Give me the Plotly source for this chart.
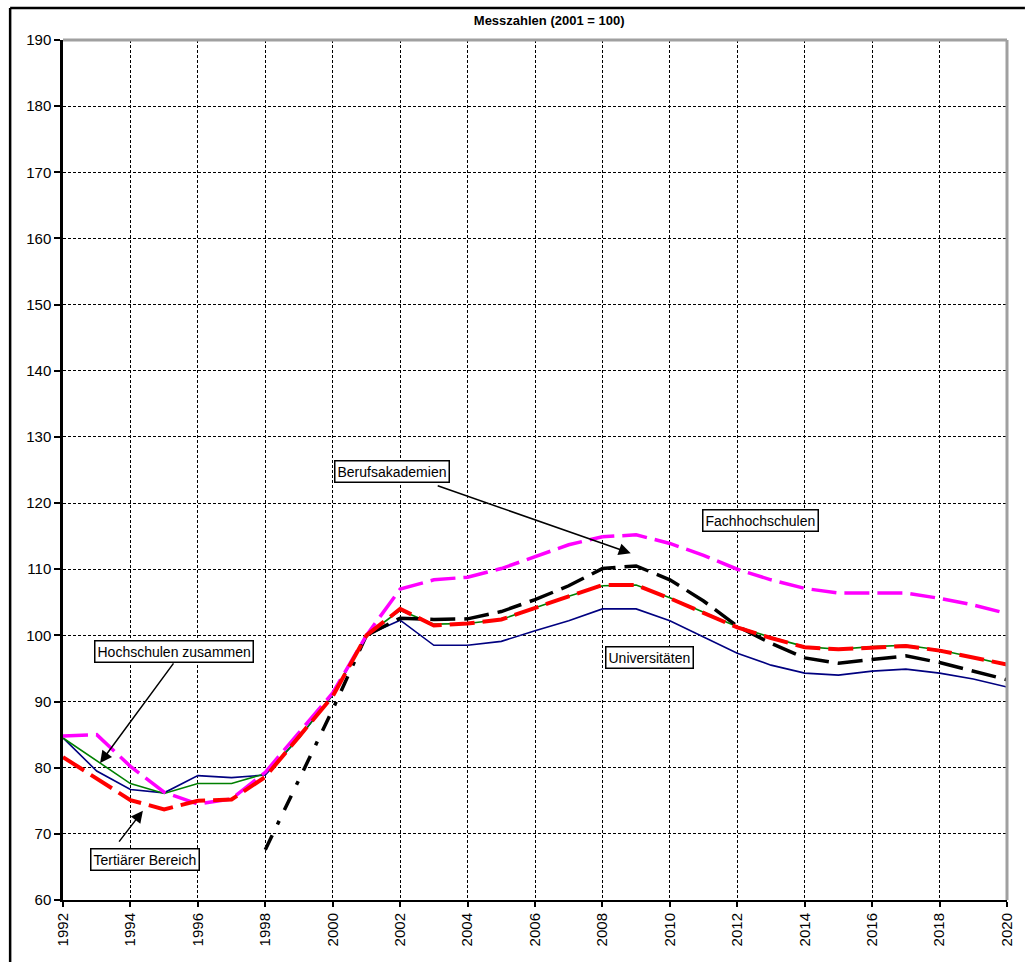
import plotly.graph_objects as go

# Messzahlen (2001 = 100), Studienanfänger nach Hochschulart
years = list(range(1992, 2021))

universitaeten = [84.5, 79.5, 76.7, 76.2, 78.8, 78.5, 78.9, 84.5, 91.0, 100.0,
                  102.3, 98.5, 98.5, 99.1, 100.7, 102.2, 104.0, 104.0, 102.2, 99.7,
                  97.3, 95.5, 94.3, 94.0, 94.6, 94.9, 94.3, 93.4, 92.2]

hochschulen_zusammen = [84.5, 81.0, 77.6, 76.1, 77.6, 77.6, 79.1, 84.5, 91.0, 100.0,
                        103.8, 101.7, 101.8, 102.4, 104.2, 105.9, 107.5, 107.6, 105.7, 103.5,
                        101.3, 99.7, 98.3, 97.9, 98.3, 98.5, 97.8, 96.7, 95.5]

tertiaerer_bereich = [81.6, 78.4, 75.1, 73.7, 75.0, 75.2, 78.6, 84.7, 90.8, 100.0,
                      104.0, 101.5, 101.8, 102.4, 104.2, 105.9, 107.6, 107.6, 105.6, 103.4,
                      101.2, 99.6, 98.2, 97.9, 98.2, 98.4, 97.7, 96.7, 95.6]

fachhochschulen = [84.8, 85.0, 80.2, 76.3, 74.5, 75.3, 79.3, 85.3, 91.3, 100.0,
                   107.0, 108.4, 108.8, 110.1, 111.9, 113.7, 114.9, 115.2, 113.9, 112.1,
                   110.0, 108.4, 107.1, 106.4, 106.4, 106.4, 105.6, 104.6, 103.3]

berufsakademien = [None, None, None, None, None, None, 67.6, 78.3, 88.8, 100.0,
                   102.6, 102.4, 102.5, 103.6, 105.4, 107.5, 110.1, 110.5, 108.4, 105.2,
                   101.4, 98.8, 96.6, 95.8, 96.4, 96.9, 95.9, 94.6, 93.3]

# first segment of the Berufsakademien line (1998-2001) is drawn dash-dotted
ba_split = years.index(2001) + 1

FONT = "Liberation Sans Narrow, Arial Narrow, Liberation Sans, Arial, sans-serif"

fig = go.Figure()

fig.add_trace(go.Scatter(x=years, y=universitaeten, mode="lines", name="Universitäten",
                         line=dict(color="#000080", width=1.6)))
fig.add_trace(go.Scatter(x=years, y=hochschulen_zusammen, mode="lines",
                         name="Hochschulen zusammen",
                         line=dict(color="#008000", width=1.6)))
fig.add_trace(go.Scatter(x=years[:ba_split], y=berufsakademien[:ba_split], mode="lines",
                         name="Berufsakademien",
                         line=dict(color="#000000", width=3.5, dash="16px,12px,4px,12px")))
fig.add_trace(go.Scatter(x=years[ba_split - 1:], y=berufsakademien[ba_split - 1:],
                         mode="lines", name="Berufsakademien", showlegend=False,
                         line=dict(color="#000000", width=3.5, dash="25px,9px")))
fig.add_trace(go.Scatter(x=years, y=fachhochschulen, mode="lines", name="Fachhochschulen",
                         line=dict(color="#ff00ff", width=3.5, dash="25px,8px")))
fig.add_trace(go.Scatter(x=years, y=tertiaerer_bereich, mode="lines",
                         name="Tertiärer Bereich",
                         line=dict(color="#ff0000", width=4, dash="25px,8px")))

box = dict(showarrow=False, bgcolor="white", bordercolor="black", borderwidth=1.5,
           borderpad=2, font=dict(family=FONT, size=14, color="black"),
           xref="x", yref="y")

labels = [
    ("Berufsakademien", 2001.75, 124.8),
    ("Fachhochschulen", 2012.69, 117.4),
    ("Universitäten", 2009.4, 96.6),
    ("Hochschulen zusammen", 1995.29, 97.6),
    ("Tertiärer Bereich", 1994.43, 66.1),
]
for text, ax_x, ax_y in labels:
    fig.add_annotation(text=text, x=ax_x, y=ax_y, **box)

# pointer arrows from the labels to their lines
arrows = [
    (2003.07, 122.7, 2008.84, 112.4),
    (1995.31, 96.0, 1993.10, 80.7),
    (1993.63, 68.6, 1994.37, 73.5),
]
for tx, ty, hx, hy in arrows:
    fig.add_annotation(text="", x=hx, y=hy, ax=tx, ay=ty, xref="x", yref="y",
                       axref="x", ayref="y", showarrow=True, arrowhead=2,
                       arrowsize=1.6, arrowwidth=1.5, arrowcolor="black")

fig.update_layout(
    width=1027, height=962,
    margin=dict(l=63, r=18, t=40, b=62),
    paper_bgcolor="white", plot_bgcolor="white",
    showlegend=False,
    font=dict(family=FONT, size=14, color="black"),
    title=dict(text="<b>Messzahlen (2001 = 100)</b>", x=0.515, xref="paper",
               xanchor="center", y=1 - 20 / 962, yref="container", yanchor="middle",
               font=dict(family=FONT, size=13, color="black")),
    shapes=[
        # outer frame (top and left edges)
        dict(type="line", xref="paper", yref="paper", x0=-0.056, x1=1.019,
             y0=1.0372, y1=1.0372, line=dict(color="black", width=2.5)),
        dict(type="line", xref="paper", yref="paper", x0=-0.056, x1=-0.056,
             y0=-0.072, y1=1.0372, line=dict(color="black", width=2.5)),
        # grey top and right border of the plot area
        dict(type="line", xref="paper", yref="paper", x0=0, x1=1, y0=1, y1=1,
             line=dict(color="#a0a0a0", width=3)),
        dict(type="line", xref="paper", yref="paper", x0=1, x1=1, y0=0, y1=1,
             line=dict(color="#a0a0a0", width=3)),
    ],
)

fig.update_xaxes(range=[1992, 2020], tick0=1992, dtick=2, tickangle=-90,
                 showline=True, linecolor="black", linewidth=2,
                 ticks="outside", ticklen=5, tickwidth=1.5, tickcolor="black",
                 showgrid=True, gridcolor="black", gridwidth=1, griddash="3px,2px",
                 zeroline=False, tickfont=dict(family=FONT, size=15))
fig.update_yaxes(range=[60, 190], tick0=60, dtick=10,
                 showline=True, linecolor="black", linewidth=2.5,
                 ticks="outside", ticklen=6, tickwidth=1.5, tickcolor="black",
                 showgrid=True, gridcolor="black", gridwidth=1, griddash="3px,2px",
                 zeroline=False, tickfont=dict(family=FONT, size=15))

fig.write_html("out.html")
